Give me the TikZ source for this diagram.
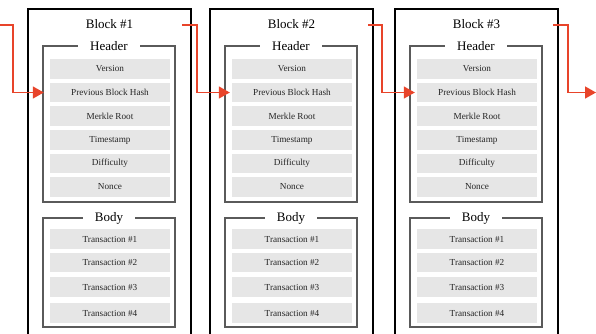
\documentclass[tikz,border=0pt]{standalone}
\usepackage{fontspec}
\setmainfont{Liberation Serif}
\usetikzlibrary{arrows.meta}
\definecolor{linkred}{HTML}{E8442A}
\definecolor{rowgray}{HTML}{E6E6E6}
\definecolor{framegray}{HTML}{5A5A5A}
\begin{document}
\begin{tikzpicture}[x=1pt,y=-1pt,
  blockframe/.style={draw=black,line width=1.1pt},
  groupframe/.style={draw=framegray,line width=1.1pt},
  grouplabel/.style={fill=white,inner xsep=12pt,inner ysep=1pt,font=\fontsize{13}{14}\selectfont},
  blocktitle/.style={font=\fontsize{13}{14}\selectfont},
  field/.style={fill=rowgray,text=black!85,minimum width=120pt,minimum height=19.5pt,inner sep=0pt,font=\fontsize{9.2}{10}\selectfont},
  link/.style={draw=linkred,line width=1.5pt,-{Triangle[length=11pt,width=12pt]}}]
\useasboundingbox (0,0) rectangle (596,333);
\clip (0,0) rectangle (596,333);
\foreach \n/\x in {1/28,2/210,3/395}{
  \begin{scope}[shift={(\x,0)}]
    % outer block frame, open at the bottom
    \draw[blockframe] (0,345) -- (0,9) -- (163,9) -- (163,345);
    \node[blocktitle] (title\n) at (81.5,24) {Block \#\n};
    % header group
    \draw[groupframe] (15,46) rectangle (147,202);
    \node[grouplabel] (head\n) at (81,46) {Header};
    \foreach \lbl/\yy [count=\k] in {Version/69, Previous Block Hash/92.5, Merkle Root/116, Timestamp/140, Difficulty/163.5, Nonce/187}{
      \node[field] (f\n-\k) at (82,\yy) {\lbl};
    }
    % body group
    \draw[groupframe] (15,218) rectangle (147,327);
    \node[grouplabel] (body\n) at (81,218) {Body};
    \foreach \lbl/\yy [count=\k] in {Transaction \#1/239, Transaction \#2/262.5, Transaction \#3/287, Transaction \#4/313}{
      \node[field] (t\n-\k) at (82,\yy) {\lbl};
    }
  \end{scope}
}
% hash links between consecutive blocks
\coordinate (in0) at (0,25);
\coordinate (out1) at (182,25);
\coordinate (out2) at (368,25);
\coordinate (out3) at (553,25);
\coordinate (next) at (596,92.5);
\draw[link,shorten >=6pt] (in0) -- (13,25) |- (f1-2.west);
\draw[link,shorten >=2pt] (out1) -- (197,25) |- (f2-2.west);
\draw[link,shorten >=2pt] (out2) -- (382,25) |- (f3-2.west);
\draw[link] (out3) -- (568,25) |- (next);
\end{tikzpicture}
\end{document}
